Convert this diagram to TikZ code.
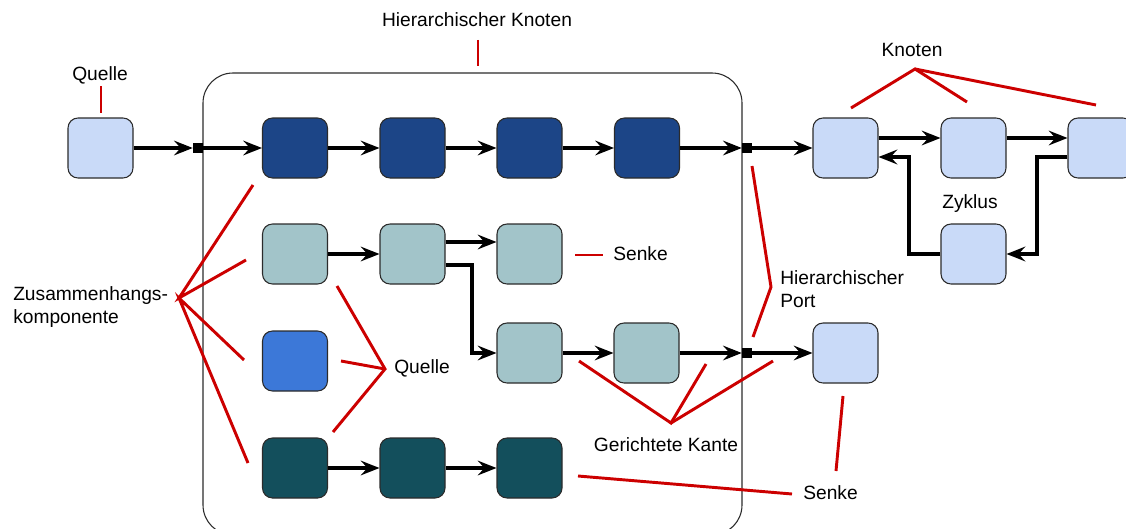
\documentclass[tikz,border=0pt]{standalone}
\usepackage{fontspec}
\setmainfont{Liberation Sans}
\usetikzlibrary{arrows.meta}
\definecolor{lightnode}{HTML}{C9DAF8}
\definecolor{navynode}{HTML}{1C4587}
\definecolor{greynode}{HTML}{A2C4C9}
\definecolor{bluenode}{HTML}{3C78D8}
\definecolor{tealnode}{HTML}{134F5C}
\definecolor{annotred}{HTML}{CC0000}
\definecolor{rim}{HTML}{2B2B2B}

\begin{document}
\begin{tikzpicture}[x=0.75pt,y=-0.75pt,
  font=\fontsize{14.4pt}{17pt}\selectfont,
  vertex/.style={draw=rim, line width=0.8pt, rounded corners=7.5pt,
    minimum width=48.75pt, minimum height=45pt, inner sep=0pt},
  container/.style={draw=rim, line width=0.8pt, rounded corners=22.5pt,
    minimum width=404.25pt, minimum height=346.5pt, inner sep=0pt},
  port/.style={fill=black, minimum size=7.5pt, inner sep=0pt},
  flow/.style={line width=2.3pt, -{Stealth[length=14pt,width=11pt,inset=5pt]}},
  note/.style={draw=annotred, line width=2.2pt},
  label/.style={inner sep=0pt}
]
\useasboundingbox (0,0) rectangle (1126,528);
\clip (0,0) rectangle (1126,528);

% hierarchical container
\node (hier) [container] at (472.5,304) {};

% ports on the container border
\node (pin)  [port] at (198,148) {};
\node (pout) [port] at (747,148) {};
\node (plow) [port] at (747,353) {};

% outer source
\node (src) [vertex, fill=lightnode] at (100.5,148) {};

% inner nodes, row by row
\node (a1) [vertex, fill=navynode] at (295,148) {};
\node (a2) [vertex, fill=navynode] at (412.5,148) {};
\node (a3) [vertex, fill=navynode] at (529.5,148) {};
\node (a4) [vertex, fill=navynode] at (647,148) {};

\node (b1) [vertex, fill=greynode] at (295,254) {};
\node (b2) [vertex, fill=greynode] at (412.5,254) {};
\node (b3) [vertex, fill=greynode] at (529.5,254) {};

\node (c0) [vertex, fill=bluenode] at (295,361) {};
\node (c1) [vertex, fill=greynode] at (529.5,353) {};
\node (c2) [vertex, fill=greynode] at (646.5,353) {};

\node (d1) [vertex, fill=tealnode] at (295,468) {};
\node (d2) [vertex, fill=tealnode] at (412.5,468) {};
\node (d3) [vertex, fill=tealnode] at (529.5,468) {};

% right-hand nodes with the cycle
\node (k1) [vertex, fill=lightnode] at (845.5,148) {};
\node (k2) [vertex, fill=lightnode] at (973.5,148) {};
\node (k3) [vertex, fill=lightnode] at (1100.5,148) {};
\node (k4) [vertex, fill=lightnode] at (973.5,254) {};
\node (snk) [vertex, fill=lightnode] at (845.5,353) {};

% directed edges
\draw[flow] (src.east) -- (pin.west);
\draw[flow] (pin.east) -- (a1.west);
\draw[flow] (a1) -- (a2);
\draw[flow] (a2) -- (a3);
\draw[flow] (a3) -- (a4);
\draw[flow] (a4.east) -- (pout.west);
\draw[flow] (pout.east) -- (k1.west);

\draw[flow] (b1) -- (b2);
\draw[flow] ([yshift=9pt]b2.east) -- ([yshift=9pt]b3.west);
\draw[flow] ([yshift=-8.25pt]b2.east) -| (472,353) -- (c1.west);
\draw[flow] (c1) -- (c2);
\draw[flow] (c2.east) -- (plow.west);
\draw[flow] (plow.east) -- (snk.west);

\draw[flow] (d1) -- (d2);
\draw[flow] (d2) -- (d3);

\draw[flow] ([yshift=7.5pt]k1.east) -- ([yshift=7.5pt]k2.west);
\draw[flow] ([yshift=7.5pt]k2.east) -- ([yshift=7.5pt]k3.west);
\draw[flow] ([yshift=-6.75pt]k3.west) -| (1037,254) -- (k4.east);
\draw[flow] (k4.west) -| (909,157) -- ([yshift=-6.75pt]k1.east);

% labels
\node (tQuelleA) [label] at (100,75) {Quelle};
\node (tHier) [label] at (477,20) {Hierarchischer Knoten};
\node (tKnoten) [label] at (912,50) {Knoten};
\node (tZyklus) [label] at (970,204) {Zyklus};
\node (tPort) [label, anchor=west, align=left] at (780,289) {Hierarchischer\\Port};
\node (tSenkeA) [label, anchor=west] at (613,254) {Senke};
\node (tZus) [label, anchor=west, align=left] at (13,307) {Zusammenhangs-\\komponente};
\node (tQuelleB) [label, anchor=west] at (394,368) {Quelle};
\node (tKante) [label] at (666,445) {Gerichtete Kante};
\node (tSenkeB) [label, anchor=west] at (803,493) {Senke};

% red callout lines
\draw[note] (101,86) -- (101,113);
\draw[note] (478,40) -- (478,66);
\draw[note] (851,108) -- (915,69) -- (967,102);
\draw[note] (915,69) -- (1096,105);
\draw[note] (752,166) -- (771,287) -- (753,337);
\draw[note] (575,255) -- (603,255);
\draw[note] (253,185) -- (179,298) -- (246,260);
\draw[note] (244,360) -- (179,298) -- (248,463);
\draw[note] (337,286) -- (385,369) -- (333,432);
\draw[note] (341,361) -- (385,369);
\draw[note] (579,361) -- (671,423) -- (706,364);
\draw[note] (671,423) -- (773,361);
\draw[note] (578,476) -- (792,494);
\draw[note] (843,396) -- (836,471);
\end{tikzpicture}
\end{document}
